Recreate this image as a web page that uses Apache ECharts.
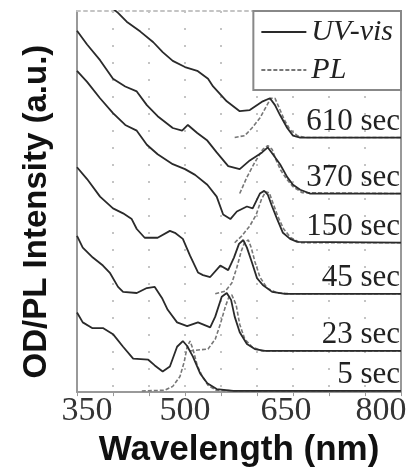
<!DOCTYPE html>
<html>
<head>
<meta charset="utf-8">
<title>OD/PL spectra</title>
<script src="https://cdn.jsdelivr.net/npm/echarts@6/dist/echarts.min.js"></script>
<style>
  html, body { margin: 0; padding: 0; background: #fff; }
  #chart { width: 415px; height: 473px; }
</style>
</head>
<body>
<div id="chart"></div>
<script>
// wavelength labels shown on the bottom axis (nm)
const wavelengthTicks = [350, 500, 650, 800];

// growth times, bottom to top
const times = ["5 sec", "23 sec", "45 sec", "150 sec", "370 sec", "610 sec"];

// UV-vis absorption, offset per trace (a.u.) — [wavelength nm, value]
const uv5s = [[350,20.9],[358,18.3],[371,16.8],[386,16.8],[400,15.2],[414,11.9],[428,8.8],[449,8.5],[458,7.0],[469,5.4],[479,6.7],[489,11.9],[497,13.4],[503,12.1],[511,9.3],[521,4.9],[531,2.3],[544,0.8],[567,0.3],[800,0.3]];
const uv23s = [[350,41.0],[358,37.9],[372,35.3],[386,33.2],[396,31.2],[407,27.6],[414,26.3],[433,26.0],[447,27.3],[458,27.6],[468,24.7],[476,21.6],[489,18.3],[503,17.3],[518,18.3],[535,17.0],[542,19.8],[551,25.0],[558,26.0],[564,24.2],[569,19.8],[576,15.7],[586,12.6],[597,11.3],[611,10.8],[800,10.8]];
const uv45s = [[350,59.0],[364,55.9],[382,51.3],[400,48.2],[414,46.9],[426,45.4],[433,42.8],[444,40.5],[462,40.5],[479,42.3],[486,41.8],[497,40.2],[507,35.8],[518,31.4],[525,30.7],[535,30.2],[549,33.2],[560,32.0],[568,35.3],[575,38.9],[581,39.9],[586,37.9],[593,34.0],[600,29.9],[608,28.1],[621,26.3],[639,25.8],[800,25.8]];
const uv150s = [[350,84.3],[364,81.4],[382,77.1],[400,73.2],[417,70.1],[433,68.6],[447,64.9],[462,62.4],[483,59.8],[500,58.5],[514,57.0],[531,54.4],[544,51.3],[553,46.6],[563,45.4],[572,47.4],[586,48.7],[594,48.2],[604,52.1],[610,52.8],[615,51.8],[621,48.7],[628,45.4],[636,41.8],[646,40.2],[656,39.4],[800,39.2]];
const uv370s = [[350,94.8],[364,91.2],[382,87.1],[400,82.2],[417,80.2],[433,78.9],[447,75.3],[462,72.4],[483,69.3],[496,68.6],[504,70.1],[517,68.0],[531,66.0],[544,62.9],[560,59.3],[576,58.5],[590,60.8],[607,62.9],[615,64.2],[622,62.4],[632,59.8],[642,56.4],[650,54.4],[660,53.1],[674,52.1],[800,52.1]];
const uv610s = [[350,108.5],[407,99.5],[419,97.2],[438,94.6],[456,91.8],[469,89.2],[483,86.9],[500,85.3],[517,84.3],[532,82.2],[539,80.2],[558,76.3],[576,73.7],[590,74.0],[608,76.3],[618,77.1],[625,75.3],[632,72.7],[642,69.3],[650,67.3],[660,66.8],[800,66.8]];

// PL emission, same offsets
const pl5s = [[440,0.3],[472,0.5],[483,1.5],[493,4.1],[499,8.0],[503,11.9],[507,13.4],[511,11.3],[517,7.0],[524,4.1],[532,1.8],[543,0.5],[569,0.3],[800,0.3]];
const pl23s = [[507,10.8],[521,11.1],[532,11.3],[542,13.9],[549,17.8],[556,22.4],[561,25.0],[565,25.5],[571,22.9],[576,17.8],[583,13.9],[593,11.9],[607,10.8],[800,10.8]];
const pl45s = [[542,25.8],[556,26.5],[565,28.6],[572,32.7],[578,36.9],[583,39.4],[588,39.9],[592,37.9],[597,34.3],[604,30.2],[614,27.3],[628,26.0],[646,25.8],[800,25.8]];
const pl150s = [[569,39.2],[579,41.0],[590,43.6],[599,46.6],[606,50.5],[612,52.6],[617,52.3],[622,49.7],[629,46.1],[637,42.8],[647,40.5],[660,39.2],[800,39.2]];
const pl370s = [[576,52.1],[586,56.4],[597,60.3],[608,63.7],[615,64.7],[621,63.7],[626,61.1],[633,58.2],[642,55.7],[650,53.9],[663,52.3],[800,52.1]];
const pl610s = [[569,66.8],[583,67.3],[593,69.3],[604,71.9],[613,75.0],[619,77.1],[625,77.1],[631,74.5],[638,71.4],[646,68.8],[656,67.3],[667,66.8],[800,66.8]];

const uvTraces = [uv5s, uv23s, uv45s, uv150s, uv370s, uv610s];
const plTraces = [pl5s, pl23s, pl45s, pl150s, pl370s, pl610s];

const serif = "Liberation Serif";
const sans = "Liberation Sans";

let chartInstance = null;

// x labels sit a little inside the frame, nudged with padding
const labelFormatter = (v) => {
  if (!wavelengthTicks.includes(v)) return "";
  if (v === 350) return "{first|" + v + "}";
  if (v === 650) return "{third|" + v + "}";
  if (v === 800) return "{last|" + v + "}";
  return String(v);
};

const initChart = () => {
  const el = document.getElementById("chart");
  chartInstance = echarts.init(el, null, { renderer: "canvas" });

  const series = [];

  times.forEach((t, i) => {
    const uv = uvTraces[i];
    const last = uv[uv.length - 1];

    // PL trace (dashed grey)
    series.push({
      name: "PL",
      type: "line",
      data: plTraces[i],
      symbol: "none",
      clip: true,
      lineStyle: { color: "#777", width: 1.6, type: [4, 2] },
      itemStyle: { color: "#777" },
      z: 2
    });

    // UV-vis trace with time label above its baseline
    series.push({
      name: "UV-vis",
      type: "line",
      data: uv,
      symbol: "none",
      clip: true,
      lineStyle: { color: "#2a2a2a", width: 1.8 },
      itemStyle: { color: "#2a2a2a" },
      z: 3,
      markPoint: {
        symbol: "circle",
        symbolSize: 0,
        silent: true,
        data: [{ coord: [last[0], last[1]] }],
        label: {
          show: true,
          position: "left",
          distance: 0,
          offset: [-1, -16],
          formatter: t,
          fontFamily: serif,
          fontSize: 31,
          color: "#222"
        }
      }
    });
  });

  const option = {
    animation: false,
    backgroundColor: "#fff",
    legend: {
      data: ["UV-vis", "PL"],
      orient: "vertical",
      right: 14,
      top: 11,
      itemWidth: 45,
      itemHeight: 14,
      itemGap: 8,
      padding: [6, 8, 5, 7],
      borderColor: "#888",
      borderWidth: 2,
      backgroundColor: "#fff",
      itemStyle: { opacity: 0 },
      textStyle: {
        fontFamily: serif,
        fontStyle: "italic",
        fontSize: 30,
        color: "#222"
      }
    },
    grid: {
      left: 77,
      right: 14,
      top: 11,
      bottom: 74,
      containLabel: false
    },
    xAxis: [
      {
        type: "value",
        position: "bottom",
        min: 350,
        max: 800,
        interval: 50,
        name: "Wavelength (nm)",
        nameLocation: "middle",
        nameGap: 36,
        nameTextStyle: {
          fontFamily: sans,
          fontWeight: "bold",
          fontSize: 35,
          color: "#111"
        },
        axisLine: { onZero: false, lineStyle: { color: "#999", width: 2 } },
        axisTick: { show: true, length: 4, lineStyle: { color: "#999" } },
        axisLabel: {
          formatter: labelFormatter,
          fontFamily: serif,
          fontSize: 34,
          color: "#333",
          margin: 2,
          rich: {
            first: { fontFamily: serif, fontSize: 34, color: "#333", padding: [0, 0, 0, 20] },
            third: { fontFamily: serif, fontSize: 34, color: "#333", padding: [0, 14, 0, 0] },
            last: { fontFamily: serif, fontSize: 34, color: "#333", padding: [0, 40, 0, 0] }
          }
        },
        splitLine: {
          show: true,
          lineStyle: { color: "#c4c4c4", width: 2, type: [2, 15] }
        }
      },
      {
        // dotted top frame
        type: "value",
        position: "top",
        min: 350,
        max: 800,
        axisLine: { show: true, onZero: false, lineStyle: { color: "#c4c4c4", width: 2, type: [3, 4] } },
        axisTick: { show: false },
        axisLabel: { show: false },
        splitLine: { show: false }
      }
    ],
    yAxis: [
      {
        type: "value",
        min: 0,
        max: 100,
        name: "OD/PL Intensity (a.u.)",
        nameLocation: "middle",
        nameGap: 24,
        nameTextStyle: {
          fontFamily: sans,
          fontWeight: "bold",
          fontSize: 33,
          color: "#111",
          padding: [0, 20, 0, 0]
        },
        axisLine: { show: true, onZero: false, lineStyle: { color: "#999", width: 2 } },
        axisTick: { show: false },
        axisLabel: { show: false },
        splitLine: { show: false }
      },
      {
        // right frame
        type: "value",
        position: "right",
        min: 0,
        max: 100,
        axisLine: { show: true, onZero: false, lineStyle: { color: "#999", width: 2 } },
        axisTick: { show: false },
        axisLabel: { show: false },
        splitLine: { show: false }
      }
    ],
    series: series
  };

  chartInstance.setOption(option);
};

initChart();
window.addEventListener("resize", () => chartInstance && chartInstance.resize());
</script>
</body>
</html>
